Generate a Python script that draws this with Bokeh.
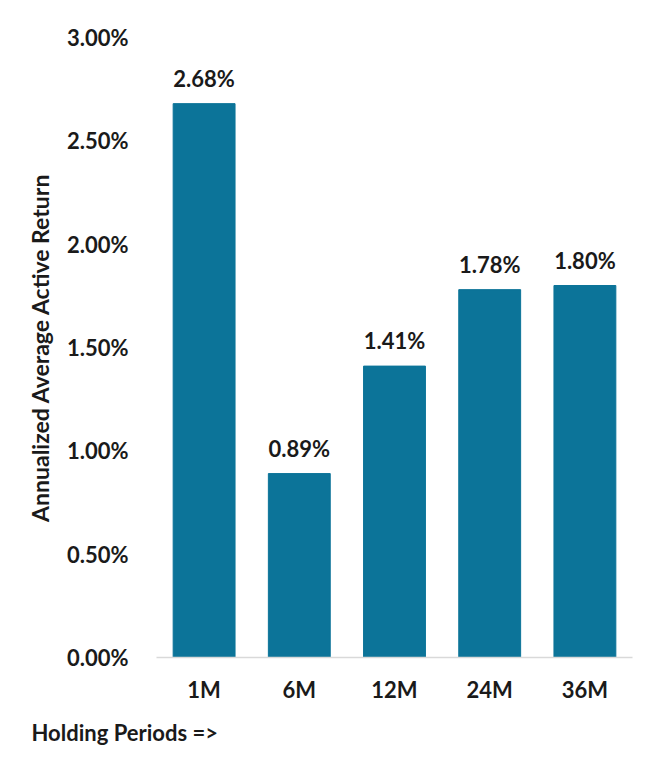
from bokeh.plotting import figure
from bokeh.models import ColumnDataSource, Title, FixedTicker, Range1d, CustomJSTickFormatter
from bokeh.core.properties import value
from bokeh.embed import file_html
from bokeh.resources import INLINE

periods = ["1M", "6M", "12M", "24M", "36M"]
returns = [2.68, 0.89, 1.41, 1.78, 1.80]
labels = ["2.68%", "0.89%", "1.41%", "1.78%", "1.80%"]
y_ticks = [0.0, 0.5, 1.0, 1.5, 2.0, 2.5, 3.0]

FONT = "Lato"
BAR = "#0C7499"
TXT = "#1a1a1a"

src = ColumnDataSource(dict(x=periods, top=returns, lab=labels))

p = figure(x_range=periods, y_range=Range1d(0, 3.0), width=640, height=772,
           output_backend="svg", toolbar_location=None,
           min_border_left=156, min_border_right=8, min_border_top=37, min_border_bottom=115)
p.outline_line_color = None
p.xgrid.grid_line_color = None
p.ygrid.grid_line_color = None

p.vbar(x="x", top="top", width=0.65, source=src, color=BAR)
p.text(x="x", y="top", text="lab", source=src, text_align="center", text_baseline="bottom",
       y_offset=-12, text_font=value(FONT), text_font_style="bold", text_font_size="22px",
       text_color=TXT)

ya = p.yaxis[0]
ya.ticker = FixedTicker(ticks=y_ticks)
ya.formatter = CustomJSTickFormatter(code="return tick.toFixed(2) + '%';")
ya.axis_line_color = None
ya.major_tick_line_color = None
ya.minor_tick_line_color = None
ya.major_label_standoff = 22
ya.major_label_text_font = FONT
ya.major_label_text_font_style = "bold"
ya.major_label_text_font_size = "22px"
ya.major_label_text_color = TXT
ya.axis_label = "Annualized Average Active Return"
ya.axis_label_text_font = FONT
ya.axis_label_text_font_style = "bold"
ya.axis_label_text_font_size = "23px"
ya.axis_label_text_color = TXT
ya.axis_label_standoff = 10

xa = p.xaxis[0]
xa.axis_line_color = "#d9d9d9"
xa.axis_line_width = 1.5
xa.major_tick_line_color = None
xa.minor_tick_line_color = None
xa.major_label_standoff = 12
xa.major_label_text_font = FONT
xa.major_label_text_font_style = "bold"
xa.major_label_text_font_size = "22px"
xa.major_label_text_color = TXT

p.add_layout(Title(text="Holding Periods =>", align="left", offset=-125, standoff=22,
                   text_font=FONT, text_font_style="bold", text_font_size="22px",
                   text_color=TXT), "below")

open("out.html", "w").write(file_html(p, INLINE))
